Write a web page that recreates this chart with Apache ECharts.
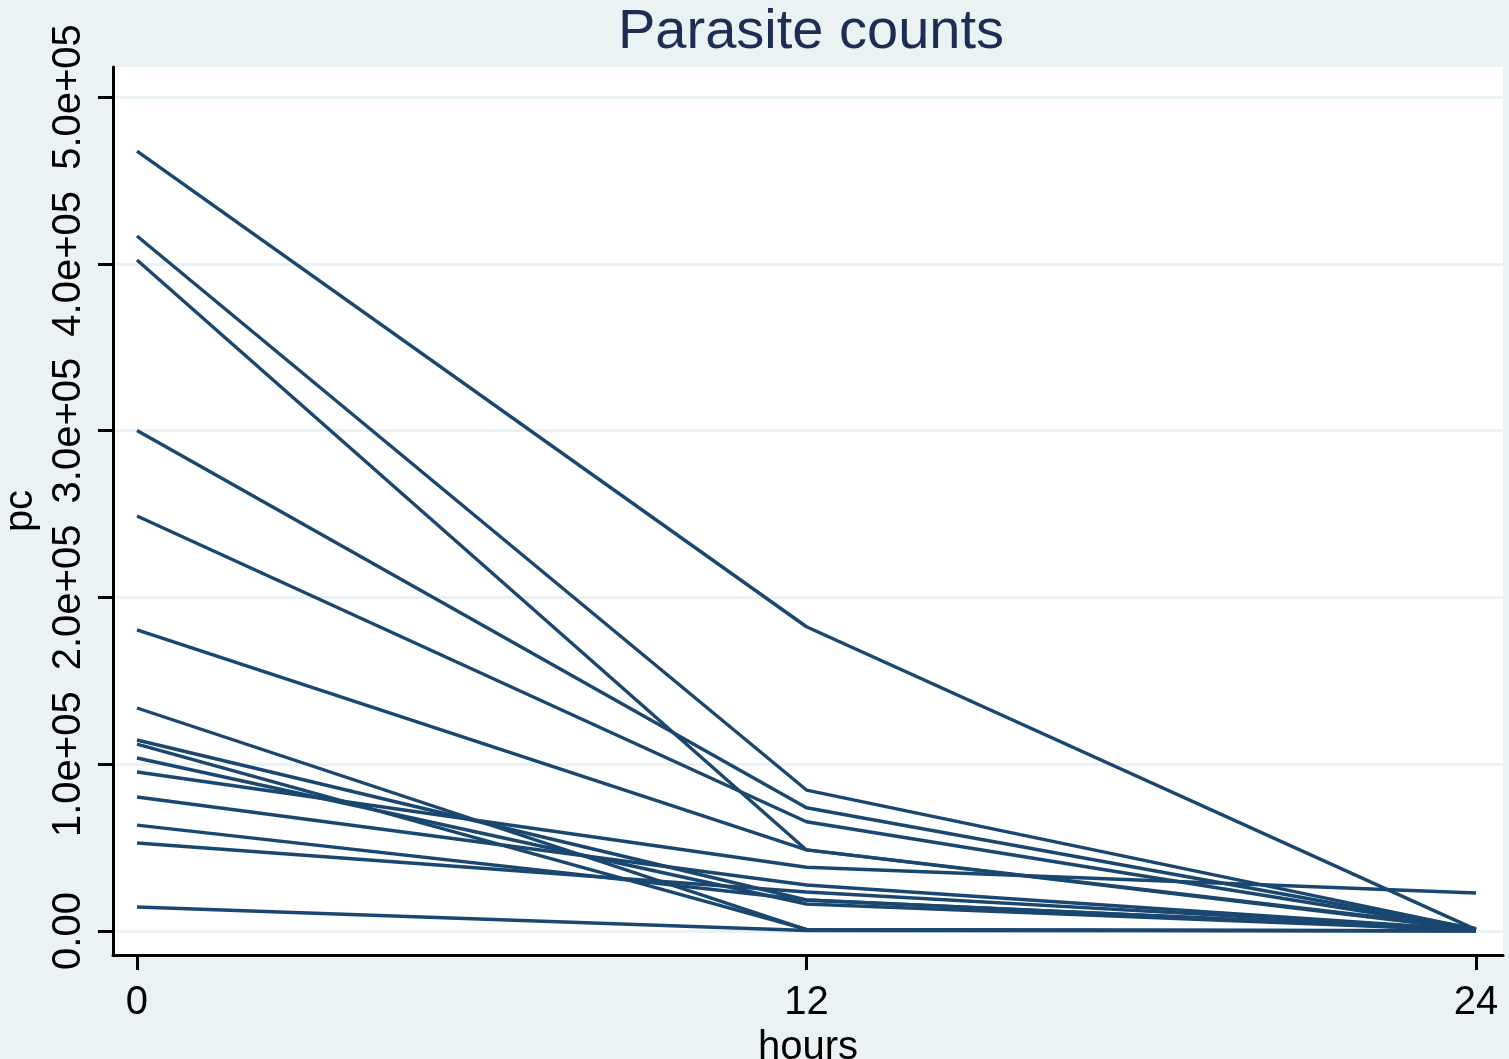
<!DOCTYPE html>
<html>
<head>
<meta charset="utf-8">
<script src="https://cdn.jsdelivr.net/npm/echarts@6/dist/echarts.min.js"></script>
<style>
html,body{margin:0;padding:0;background:#eaf2f3;}
#chart{width:1509px;height:1059px;}
</style>
</head>
<body>
<div id="chart"></div>
<script>
// time points (hours)
const hours = [0, 12, 24];
// parasite counts per subject at 0, 12 and 24 hours
const pc0  = [467600, 416700, 402300, 300000, 248800, 180500, 133700, 114500, 112100, 103700, 95300, 80300, 63500, 52800, 14400];
const pc12 = [182400,  84500,  48600,  73900,  65500,  48600,    800,  18600,   1000,  16200, 38200, 27600, 18600, 23400,   300];
const pc24 = [   800,   1000,    700,   1200,    900,   1500,      0,    300,    200,    400, 22800,   600,   500,   800,   100];
// axis ticks
const xTicks = [0, 12, 24];
const yTicks = [0, 100000, 200000, 300000, 400000, 500000];
const yTickLabels = ['0.00', '1.0e+05', '2.0e+05', '3.0e+05', '4.0e+05', '5.0e+05'];

const lineColor = '#1a476f';
const series = pc0.map((v, i) => ({
  type: 'line',
  data: [[hours[0], pc0[i]], [hours[1], pc12[i]], [hours[2], pc24[i]]],
  showSymbol: false,
  symbol: 'none',
  lineStyle: { color: lineColor, width: 3.4 },
  silent: true,
  z: 3
}));

const chart = echarts.init(document.getElementById('chart'), null, { renderer: 'canvas' });
chart.setOption({
  animation: false,
  backgroundColor: '#eaf2f3',
  textStyle: { fontFamily: 'Liberation Sans, Arial, sans-serif' },
  title: {
    text: 'Parasite counts',
    left: 618,
    top: 5,
    padding: 0,
    textStyle: { fontSize: 56, fontWeight: 'normal', color: '#1e2d53', fontFamily: 'Liberation Sans, Arial, sans-serif' }
  },
  grid: {
    left: 113, right: 6, top: 67, bottom: 104,
    show: true, backgroundColor: '#ffffff', borderWidth: 0,
    containLabel: false,
    outerBoundsMode: 'none'
  },
  xAxis: {
    type: 'value',
    min: -0.43,
    max: 24.484,
    name: 'hours',
    nameLocation: 'middle',
    nameGap: 60,
    nameTextStyle: { fontSize: 40, color: '#000' },
    axisLine: { show: true, onZero: false, lineStyle: { color: '#000', width: 3 } },
    axisTick: { show: true, customValues: xTicks, length: 15, lineStyle: { color: '#000', width: 3 } },
    axisLabel: { customValues: xTicks, fontSize: 40, color: '#000', margin: 28,
      formatter: v => String(v) },
    splitLine: { show: false }
  },
  yAxis: {
    type: 'value',
    min: -14388,
    max: 517986,
    name: 'pc',
    nameLocation: 'middle',
    nameGap: 47,
    nameRotate: 90,
    nameTextStyle: { fontSize: 40, color: '#000' },
    axisLine: { show: true, onZero: false, lineStyle: { color: '#000', width: 3 } },
    axisTick: { show: true, customValues: yTicks, length: 15, lineStyle: { color: '#000', width: 3 } },
    axisLabel: { customValues: yTicks, fontSize: 40, color: '#000', margin: 24, rotate: 90,
      formatter: v => { const k = yTicks.indexOf(v); return k >= 0 ? yTickLabels[k] : ''; } },
    splitLine: { show: true, lineStyle: { color: '#eaf2f3', width: 3 } }
  },
  series: series
});
</script>
</body>
</html>
